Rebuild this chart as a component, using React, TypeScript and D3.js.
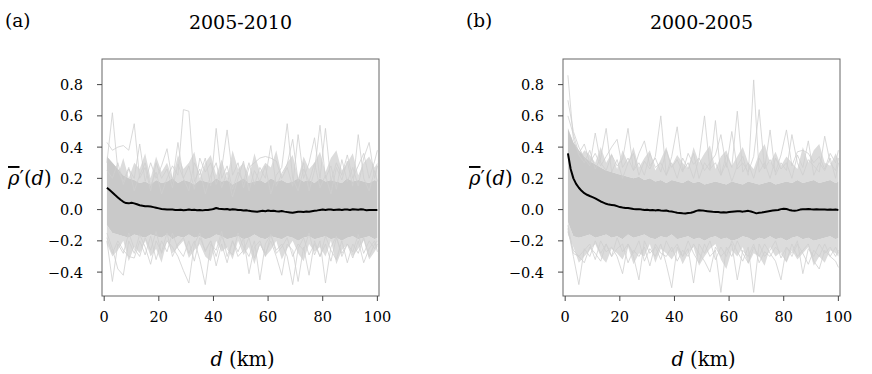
import React from "react";
import * as d3 from "d3";

const ticksX = [0, 20, 40, 60, 80, 100];
const ticksY = [-0.4, -0.2, 0, 0.2, 0.4, 0.6, 0.8];

// distance grid for the individual gray series (every 2 km) and for the mean (every km)
const dGrid = d3.range(1, 100, 2).concat([100]);
const dMean = d3.range(1, 101);

// ---- panel (a) 2005-2010 ----
const meanA = [0.14,0.125,0.11,0.093,0.078,0.063,0.05,0.042,0.04,0.044,0.04,0.034,0.028,0.025,0.022,0.021,0.02,0.016,0.012,0.008,0.004,0.002,0,0.001,0,-0.002,-0.003,-0.001,-0.004,-0.002,0,-0.003,-0.001,-0.004,-0.002,-0.005,-0.002,-0.003,0,0.004,0.01,0.006,0.004,0.002,0.004,-0.001,0.002,0,-0.003,-0.002,-0.006,-0.004,-0.008,-0.01,-0.012,-0.014,-0.011,-0.008,-0.01,-0.006,-0.009,-0.007,-0.01,-0.012,-0.009,-0.013,-0.016,-0.018,-0.02,-0.017,-0.014,-0.013,-0.015,-0.012,-0.014,-0.01,-0.007,-0.005,-0.002,0,-0.002,0.001,0,-0.003,-0.001,0,-0.002,0.001,0,-0.002,0.002,0.001,-0.001,0.002,0,-0.004,-0.003,-0.002,-0.003,-0.002];
const coreHiA = [0.34,0.3,0.26,0.22,0.2,0.19,0.17,0.18,0.16,0.19,0.17,0.18,0.2,0.17,0.19,0.18,0.16,0.19,0.18,0.17,0.2,0.18,0.19,0.16,0.18,0.2,0.17,0.18,0.19,0.17,0.2,0.18,0.19,0.17,0.18,0.2,0.18,0.19,0.17,0.2,0.18,0.19,0.18,0.17,0.2,0.18,0.19,0.18,0.17,0.19,0.18];
const coreLoA = [-0.1,-0.15,-0.16,-0.17,-0.18,-0.16,-0.17,-0.18,-0.16,-0.17,-0.18,-0.16,-0.19,-0.17,-0.18,-0.16,-0.18,-0.17,-0.19,-0.18,-0.16,-0.17,-0.19,-0.18,-0.17,-0.19,-0.18,-0.16,-0.18,-0.19,-0.17,-0.18,-0.19,-0.17,-0.18,-0.2,-0.18,-0.17,-0.19,-0.18,-0.17,-0.19,-0.18,-0.2,-0.18,-0.17,-0.19,-0.18,-0.17,-0.19,-0.18];
const upA1 = [0.3,0.62,0.25,0.18,0.27,0.12,0.22,0.3,0.15,0.24,0.1,0.2,0.28,0.22,0.64,0.63,0.18,0.26,0.1,0.22,0.3,0.14,0.24,0.08,0.2,0.31,0.12,0.25,0.18,0.28,0.1,0.22,0.27,0.55,0.2,0.12,0.26,0.18,0.3,0.14,0.22,0.1,0.27,0.19,0.31,0.15,0.48,0.2,0.12,0.25,0.18];
const upA2 = [0.43,0.38,0.4,0.41,0.38,0.55,0.2,0.27,0.12,0.3,0.2,0.26,0.14,0.29,0.2,0.12,0.3,0.22,0.33,0.15,0.52,0.2,0.28,0.13,0.24,0.18,0.3,0.16,0.27,0.2,0.41,0.15,0.23,0.29,0.45,0.18,0.3,0.12,0.25,0.54,0.2,0.28,0.13,0.32,0.18,0.27,0.15,0.33,0.43,0.2,0.28];
const upA3 = [0.25,0.2,0.3,0.16,0.26,0.2,0.42,0.18,0.3,0.2,0.28,0.39,0.18,0.43,0.2,0.28,0.13,0.33,0.24,0.3,0.16,0.26,0.51,0.22,0.3,0.14,0.27,0.3,0.33,0.34,0.33,0.31,0.2,0.27,0.15,0.48,0.2,0.3,0.46,0.2,0.52,0.18,0.3,0.22,0.35,0.2,0.28,0.36,0.2,0.31,0.38];
const upA4 = [0.34,0.28,0.22,0.33,0.2,0.3,0.26,0.36,0.2,0.34,0.24,0.3,0.2,0.35,0.26,0.3,0.37,0.2,0.3,0.35,0.22,0.32,0.2,0.38,0.26,0.3,0.21,0.36,0.24,0.3,0.27,0.38,0.22,0.3,0.35,0.2,0.34,0.26,0.3,0.37,0.24,0.33,0.38,0.25,0.3,0.36,0.22,0.3,0.34,0.27,0.3];
const loA1 = [-0.2,-0.46,-0.22,-0.28,-0.15,-0.25,-0.3,-0.18,-0.26,-0.14,-0.28,-0.2,-0.24,-0.3,-0.39,-0.47,-0.22,-0.15,-0.27,-0.2,-0.3,-0.17,-0.25,-0.29,-0.15,-0.24,-0.3,-0.2,-0.45,-0.22,-0.16,-0.28,-0.24,-0.18,-0.3,-0.22,-0.26,-0.15,-0.29,-0.2,-0.47,-0.24,-0.17,-0.3,-0.22,-0.27,-0.16,-0.28,-0.2,-0.25,-0.22];
const loA2 = [-0.15,-0.25,-0.38,-0.42,-0.2,-0.28,-0.16,-0.24,-0.35,-0.2,-0.27,-0.15,-0.3,-0.22,-0.18,-0.28,-0.2,-0.32,-0.48,-0.22,-0.26,-0.14,-0.3,-0.2,-0.27,-0.18,-0.41,-0.24,-0.2,-0.3,-0.16,-0.26,-0.22,-0.3,-0.48,-0.25,-0.18,-0.29,-0.22,-0.3,-0.17,-0.26,-0.32,-0.2,-0.34,-0.22,-0.28,-0.18,-0.3,-0.22,-0.2];
const loA3 = [-0.18,-0.28,-0.2,-0.26,-0.3,-0.31,-0.2,-0.29,-0.17,-0.32,-0.2,-0.27,-0.15,-0.25,-0.3,-0.2,-0.33,-0.18,-0.26,-0.2,-0.36,-0.22,-0.34,-0.2,-0.3,-0.26,-0.18,-0.31,-0.22,-0.28,-0.2,-0.3,-0.42,-0.22,-0.26,-0.46,-0.24,-0.42,-0.2,-0.3,-0.22,-0.33,-0.18,-0.28,-0.22,-0.31,-0.2,-0.34,-0.25,-0.2,-0.27];
const loA4 = [-0.22,-0.3,-0.26,-0.2,-0.33,-0.24,-0.28,-0.2,-0.3,-0.25,-0.34,-0.2,-0.28,-0.24,-0.2,-0.31,-0.26,-0.22,-0.3,-0.33,-0.2,-0.27,-0.24,-0.32,-0.2,-0.29,-0.24,-0.35,-0.22,-0.3,-0.26,-0.2,-0.32,-0.25,-0.2,-0.28,-0.33,-0.22,-0.27,-0.24,-0.3,-0.2,-0.35,-0.26,-0.22,-0.3,-0.25,-0.2,-0.32,-0.27,-0.24];

// ---- panel (b) 2000-2005 ----
const meanB = [0.36,0.26,0.2,0.165,0.14,0.12,0.105,0.095,0.087,0.08,0.072,0.062,0.052,0.045,0.037,0.032,0.03,0.028,0.022,0.016,0.013,0.011,0.01,0.007,0.004,0.002,0.003,0,-0.002,-0.001,-0.004,-0.002,-0.005,-0.003,-0.006,-0.008,-0.006,-0.01,-0.012,-0.016,-0.02,-0.022,-0.024,-0.025,-0.022,-0.02,-0.015,-0.008,-0.004,-0.005,-0.008,-0.01,-0.012,-0.014,-0.015,-0.016,-0.018,-0.017,-0.019,-0.016,-0.014,-0.012,-0.01,-0.011,-0.013,-0.01,-0.008,-0.012,-0.018,-0.024,-0.02,-0.018,-0.015,-0.012,-0.009,-0.006,-0.004,-0.002,0.003,0.006,0.004,-0.002,-0.006,-0.008,-0.005,0,0.002,0.003,0.004,0.002,0.001,0.002,0,0.001,0,-0.001,0,-0.001,0,-0.002];
const coreHiB = [0.52,0.43,0.38,0.34,0.31,0.29,0.27,0.25,0.24,0.23,0.22,0.21,0.2,0.21,0.19,0.2,0.18,0.19,0.17,0.19,0.18,0.17,0.19,0.17,0.18,0.16,0.17,0.18,0.17,0.16,0.18,0.17,0.16,0.18,0.17,0.16,0.17,0.18,0.16,0.17,0.18,0.17,0.19,0.17,0.18,0.19,0.17,0.18,0.19,0.17,0.18];
const coreLoB = [-0.08,-0.17,-0.18,-0.17,-0.16,-0.18,-0.17,-0.16,-0.18,-0.17,-0.19,-0.16,-0.18,-0.17,-0.16,-0.18,-0.19,-0.17,-0.18,-0.16,-0.19,-0.18,-0.17,-0.19,-0.18,-0.2,-0.18,-0.17,-0.19,-0.18,-0.2,-0.19,-0.17,-0.18,-0.2,-0.18,-0.19,-0.17,-0.19,-0.18,-0.2,-0.18,-0.17,-0.19,-0.18,-0.2,-0.19,-0.18,-0.17,-0.19,-0.18];
const upB1 = [0.86,0.45,0.35,0.3,0.38,0.26,0.33,0.52,0.24,0.32,0.2,0.3,0.36,0.22,0.31,0.26,0.34,0.6,0.22,0.3,0.2,0.33,0.26,0.36,0.2,0.3,0.25,0.57,0.22,0.3,0.18,0.28,0.34,0.22,0.83,0.24,0.3,0.2,0.33,0.26,0.3,0.2,0.35,0.27,0.44,0.22,0.3,0.25,0.33,0.2,0.3];
const upB2 = [0.7,0.5,0.4,0.33,0.28,0.49,0.3,0.25,0.35,0.28,0.32,0.52,0.25,0.3,0.22,0.36,0.27,0.3,0.22,0.34,0.53,0.25,0.3,0.2,0.33,0.6,0.26,0.3,0.22,0.35,0.27,0.63,0.24,0.3,0.2,0.33,0.26,0.51,0.22,0.3,0.25,0.48,0.3,0.22,0.32,0.28,0.24,0.47,0.3,0.25,0.33];
const upB3 = [0.6,0.48,0.36,0.42,0.3,0.36,0.28,0.34,0.4,0.45,0.27,0.33,0.25,0.36,0.44,0.28,0.33,0.24,0.38,0.27,0.32,0.24,0.36,0.29,0.33,0.25,0.3,0.35,0.48,0.27,0.5,0.26,0.3,0.24,0.34,0.64,0.26,0.32,0.24,0.35,0.51,0.28,0.37,0.38,0.36,0.3,0.34,0.26,0.36,0.3,0.38];
const upB4 = [0.52,0.4,0.32,0.38,0.35,0.3,0.4,0.3,0.36,0.26,0.38,0.3,0.4,0.27,0.33,0.38,0.25,0.32,0.4,0.28,0.35,0.3,0.26,0.4,0.3,0.36,0.41,0.26,0.34,0.38,0.28,0.34,0.4,0.3,0.26,0.36,0.42,0.3,0.37,0.28,0.34,0.3,0.26,0.4,0.3,0.38,0.42,0.3,0.28,0.36,0.32];
const loB1 = [-0.12,-0.3,-0.48,-0.25,-0.3,-0.2,-0.28,-0.22,-0.3,-0.18,-0.27,-0.22,-0.3,-0.45,-0.2,-0.28,-0.24,-0.32,-0.2,-0.27,-0.22,-0.3,-0.25,-0.47,-0.22,-0.28,-0.2,-0.32,-0.24,-0.3,-0.2,-0.27,-0.33,-0.24,-0.53,-0.22,-0.3,-0.26,-0.2,-0.31,-0.24,-0.28,-0.2,-0.41,-0.25,-0.3,-0.22,-0.28,-0.24,-0.3,-0.26];
const loB2 = [-0.1,-0.28,-0.3,-0.26,-0.22,-0.32,-0.2,-0.27,-0.24,-0.3,-0.41,-0.22,-0.28,-0.2,-0.33,-0.25,-0.3,-0.22,-0.35,-0.5,-0.24,-0.3,-0.2,-0.28,-0.34,-0.22,-0.3,-0.26,-0.53,-0.24,-0.3,-0.2,-0.28,-0.34,-0.24,-0.3,-0.22,-0.28,-0.33,-0.45,-0.24,-0.3,-0.22,-0.28,-0.35,-0.26,-0.3,-0.22,-0.3,-0.33,-0.37];
const loB3 = [-0.14,-0.26,-0.3,-0.34,-0.24,-0.28,-0.33,-0.22,-0.3,-0.25,-0.22,-0.34,-0.26,-0.3,-0.24,-0.36,-0.22,-0.28,-0.3,-0.24,-0.33,-0.26,-0.3,-0.22,-0.28,-0.33,-0.4,-0.24,-0.3,-0.26,-0.22,-0.45,-0.26,-0.3,-0.22,-0.34,-0.27,-0.3,-0.24,-0.28,-0.33,-0.22,-0.3,-0.26,-0.22,-0.33,-0.38,-0.26,-0.3,-0.24,-0.28];
const loB4 = [-0.16,-0.24,-0.34,-0.3,-0.26,-0.22,-0.3,-0.34,-0.25,-0.28,-0.32,-0.24,-0.35,-0.28,-0.3,-0.22,-0.34,-0.25,-0.28,-0.32,-0.26,-0.35,-0.28,-0.24,-0.36,-0.3,-0.25,-0.22,-0.32,-0.38,-0.26,-0.3,-0.24,-0.35,-0.28,-0.3,-0.36,-0.24,-0.3,-0.27,-0.34,-0.26,-0.32,-0.28,-0.24,-0.36,-0.3,-0.34,-0.26,-0.28,-0.3];

const serif = "'DejaVu Serif', serif";
const core = "#c9c9c9";
const fringe = "#dcdcdc";
const thin = "#cfcfcf";

type PanelProps = {
  left: number;
  tag: string;
  title: string;
  mean: number[];
  coreHi: number[];
  coreLo: number[];
  outerHi: number[];
  outerLo: number[];
  lines: number[][];
};

const Panel = ({ left, tag, title, mean, coreHi, coreLo, outerHi, outerLo, lines }: PanelProps) => {
  const top = 59;
  const bottom = 296;
  const right = left + 277;
  const x = d3.scaleLinear().domain([-0.8, 100.6]).range([left, right]);
  const y = d3.scaleLinear().domain([-0.553, 0.964]).range([bottom, top]);
  const fmt = d3.format(".1f");

  const area = (lo: number[], hi: number[]) =>
    d3
      .area<number>()
      .x((d) => x(d))
      .y0((d, i) => y(lo[i]))
      .y1((d, i) => y(hi[i]))(dGrid) || "";

  const series = d3
    .line<number>()
    .x((v, i) => x(dGrid[i]))
    .y((v) => y(v));

  const meanLine = d3
    .line<number>()
    .x((v, i) => x(dMean[i]))
    .y((v) => y(v));

  const cx = (left + right) / 2;

  return (
    <g>
      <text x={left - 97} y={27} fontSize={18.5} fontFamily={serif}>{tag}</text>
      <text x={cx} y={29} fontSize={19} fontFamily={serif} textAnchor="middle">{title}</text>

      {/* lighter fringe of the gray bundle, then the dense core */}
      <path d={area(coreHi, outerHi)} fill={fringe} />
      <path d={area(outerLo, coreLo)} fill={fringe} />
      <path d={area(coreLo, coreHi)} fill={core} />
      {lines.map((l, i) => (
        <path key={i} d={series(l) || ""} fill="none" stroke={thin} strokeWidth={0.8} />
      ))}
      <path d={meanLine(mean) || ""} fill="none" stroke="#000" strokeWidth={2} strokeLinejoin="round" />

      <rect x={left} y={top} width={right - left} height={bottom - top} fill="none" stroke="#666" strokeWidth={1} />

      {ticksY.map((t) => (
        <g key={t}>
          <line x1={left - 5} x2={left} y1={y(t)} y2={y(t)} stroke="#444" />
          <text x={left - 19} y={y(t) + 5.5} fontSize={14.5} fontFamily={serif} textAnchor="end">{fmt(t)}</text>
        </g>
      ))}
      {ticksX.map((t) => (
        <g key={t}>
          <line x1={x(t)} x2={x(t)} y1={bottom} y2={bottom + 5} stroke="#444" />
          <text x={x(t)} y={322} fontSize={14.5} fontFamily={serif} textAnchor="middle">{t}</text>
        </g>
      ))}

      <text x={left - 94} y={185} fontSize={19.5} fontFamily={serif}>
        <tspan fontStyle="italic" textDecoration="overline">ρ</tspan>
        <tspan>′(</tspan>
        <tspan fontStyle="italic">d</tspan>
        <tspan>)</tspan>
      </text>
      <text x={cx + 2} y={366} fontSize={19.5} fontFamily={serif} textAnchor="middle">
        <tspan fontStyle="italic">d</tspan>
        <tspan> (km)</tspan>
      </text>
    </g>
  );
};

export default function App() {
  return (
    <svg
      width={872}
      height={374}
      style={{ position: "absolute", left: 0, top: 0, background: "#fff" }}
    >
      <Panel
        left={102}
        tag="(a)"
        title="2005-2010"
        mean={meanA}
        coreHi={coreHiA}
        coreLo={coreLoA}
        outerHi={upA4}
        outerLo={loA4}
        lines={[upA1, upA2, upA3, loA1, loA2, loA3]}
      />
      <Panel
        left={563}
        tag="(b)"
        title="2000-2005"
        mean={meanB}
        coreHi={coreHiB}
        coreLo={coreLoB}
        outerHi={upB4}
        outerLo={loB4}
        lines={[upB1, upB2, upB3, loB1, loB2, loB3]}
      />
    </svg>
  );
}
